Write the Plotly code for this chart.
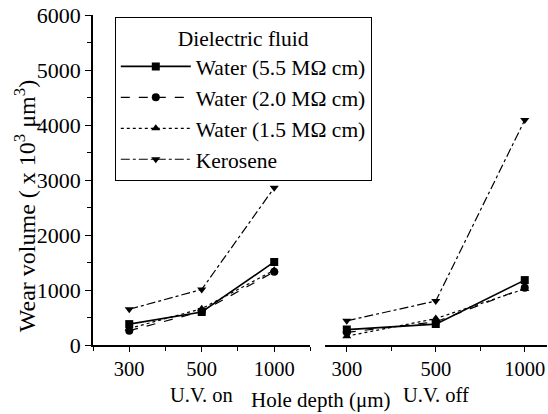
import plotly.graph_objects as go

depths = ["300", "500", "1000"]
series_names = ["Water (5.5 MΩ cm)", "Water (2.0 MΩ cm)", "Water (1.5 MΩ cm)", "Kerosene"]

uv_on_w55 = [380, 600, 1510]
uv_on_w20 = [260, 610, 1330]
uv_on_w15 = [300, 660, 1360]
uv_on_ker = [650, 1010, 2860]

uv_off_w55 = [280, 380, 1180]
uv_off_w20 = [230, 420, 1040]
uv_off_w15 = [160, 480, 1020]
uv_off_ker = [440, 800, 4090]

y_ticks = [0, 1000, 2000, 3000, 4000, 5000, 6000]

styles = [
    dict(dash="solid", symbol="square", width=1.6),
    dict(dash="dash", symbol="circle", width=1.2),
    dict(dash="dot", symbol="triangle-up", width=1.2),
    dict(dash="dashdot", symbol="triangle-down", width=1.2),
]

xpos = list(range(len(depths)))
FONT = "Liberation Serif, Times New Roman, Times, serif"

fig = go.Figure()
on_data = [uv_on_w55, uv_on_w20, uv_on_w15, uv_on_ker]
off_data = [uv_off_w55, uv_off_w20, uv_off_w15, uv_off_ker]
for name, st, yon, yoff in zip(series_names, styles, on_data, off_data):
    fig.add_trace(go.Scatter(
        x=xpos, y=yon, name=name, legendgroup=name, mode="lines+markers",
        line=dict(color="black", dash=st["dash"], width=st["width"]),
        marker=dict(symbol=st["symbol"], size=8, color="black"),
        xaxis="x", yaxis="y", showlegend=True))
    fig.add_trace(go.Scatter(
        x=xpos, y=yoff, name=name, legendgroup=name, mode="lines+markers",
        line=dict(color="black", dash=st["dash"], width=st["width"]),
        marker=dict(symbol=st["symbol"], size=8, color="black"),
        xaxis="x2", yaxis="y2", showlegend=False))

axis_common = dict(showline=True, linecolor="black", linewidth=1.6, ticks="outside",
                   tickwidth=1.3, tickcolor="black", showgrid=False, zeroline=False)
xtickfont = dict(family=FONT, size=20.5, color="black")
ytickfont = dict(family=FONT, size=22, color="black")

fig.update_layout(
    width=548, height=414,
    margin=dict(l=93, r=1, t=15, b=69),
    paper_bgcolor="white", plot_bgcolor="white",
    font=dict(family=FONT, size=21, color="black"),
    xaxis=dict(domain=[0, 0.479], range=[-0.5, 2.5], tickvals=xpos, ticktext=depths,
               anchor="y", tickfont=xtickfont, ticklen=5,
               minor=dict(ticks="outside", tick0=0, dtick=0.5, ticklen=4, tickcolor="black"),
               **axis_common),
    xaxis2=dict(domain=[0.51, 1.0], range=[-0.25, 2.25], tickvals=xpos, ticktext=depths,
                anchor="y2", tickfont=xtickfont, ticklen=5,
                minor=dict(ticks="outside", tick0=0, dtick=0.5, ticklen=4, tickcolor="black"),
                **axis_common),
    yaxis=dict(range=[0, 6000], tickvals=y_ticks, anchor="x", tickfont=ytickfont, ticklen=6,
               minor=dict(ticks="outside", tick0=0, dtick=500, ticklen=4, tickcolor="black"),
               **axis_common),
    yaxis2=dict(range=[0, 6000], matches="y", anchor="x2", visible=False),
    legend=dict(x=0.048, y=0.994, xanchor="left", yanchor="top",
                bordercolor="black", borderwidth=1, bgcolor="white",
                font=dict(family=FONT, size=21.5, color="black"),
                title=dict(text="Dielectric fluid", side="top center",
                           font=dict(family=FONT, size=21.5, color="black")),
                itemwidth=70, tracegroupgap=0),
    annotations=[
        dict(text="U.V. on", x=1, xref="x", y=-0.111, yref="paper", showarrow=False,
             yanchor="top", font=dict(family=FONT, size=20.5)),
        dict(text="U.V. off", x=1, xref="x2", y=-0.111, yref="paper", showarrow=False,
             yanchor="top", font=dict(family=FONT, size=20.5)),
        dict(text="Hole depth (μm)", x=0.503, xref="paper", y=-0.209, yref="paper",
             showarrow=False, yanchor="bottom", font=dict(family=FONT, size=21)),
        dict(text="Wear volume ( x 10<sup>3</sup> μm<sup>3</sup>)", x=-0.148, xref="paper",
             y=0.42, yref="paper", showarrow=False, textangle=-90,
             xanchor="center", yanchor="middle", font=dict(family=FONT, size=24)),
    ],
)

fig.write_html("out.html", config={"displayModeBar": False},
               post_script="document.body.style.margin='0';document.body.style.padding='0';")
